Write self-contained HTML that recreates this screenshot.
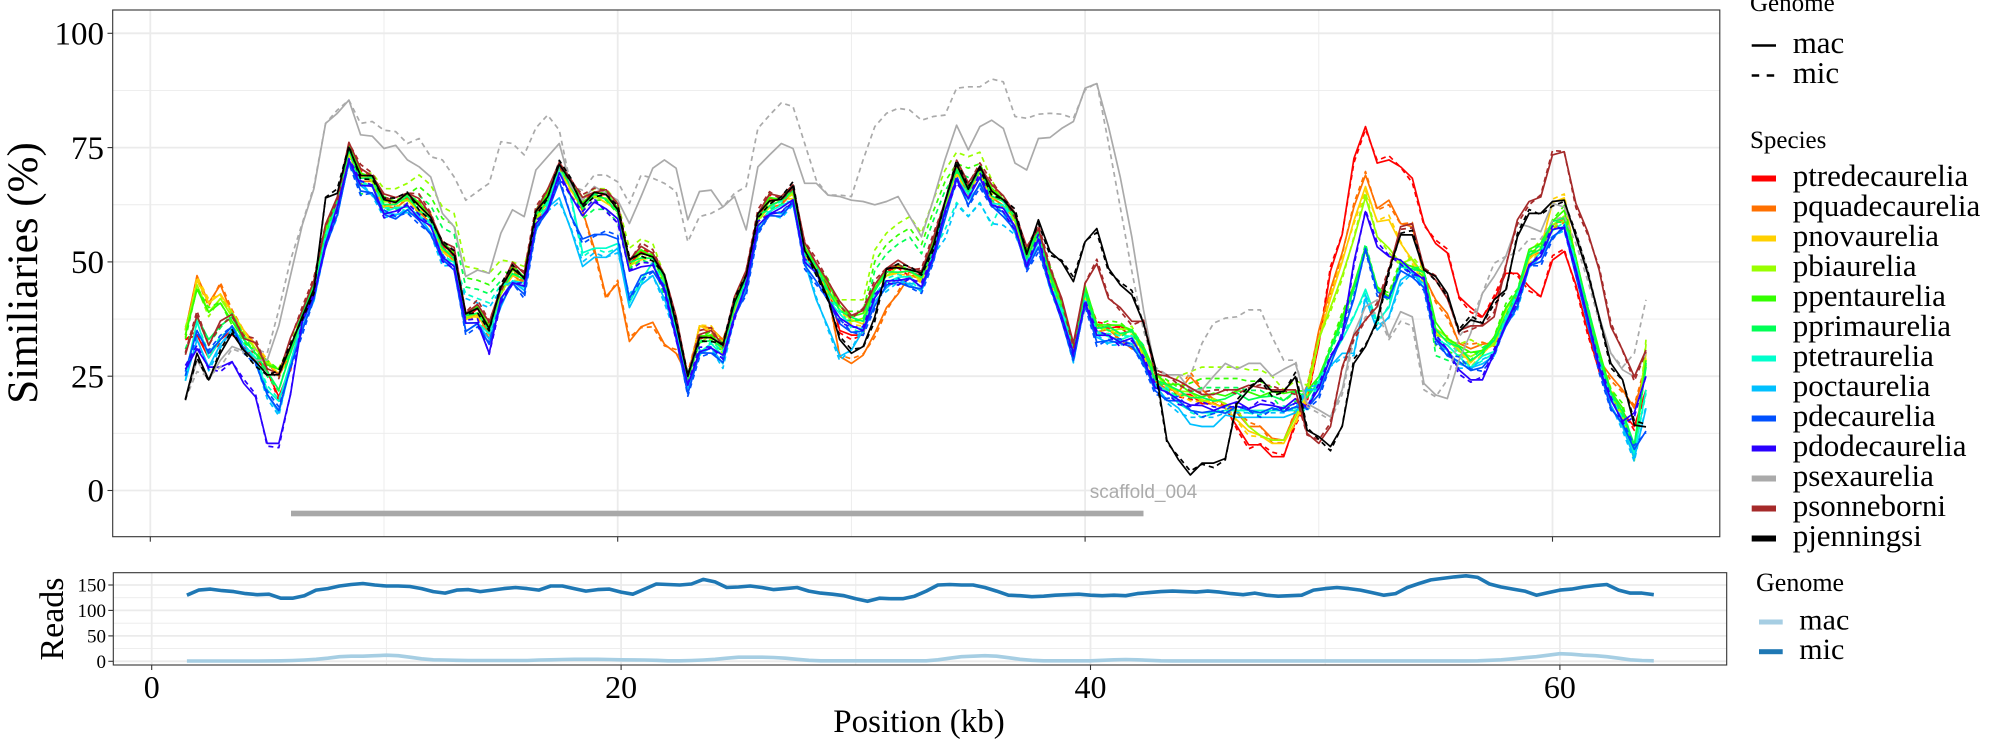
<!DOCTYPE html>
<html><head><meta charset="utf-8">
<style>
html,body{margin:0;padding:0;background:#fff;}
svg{display:block;}
text{font-family:"Liberation Serif","DejaVu Serif",serif;fill:#000;}
</style></head>
<body>
<svg id="s" width="2000" height="750" viewBox="0 0 2000 750" xmlns="http://www.w3.org/2000/svg">
<defs>
<clipPath id="cu"><rect x="112.7" y="10" width="1607.1" height="526.7"/></clipPath>
<clipPath id="cl"><rect x="113.3" y="572.7" width="1613.4" height="92.3"/></clipPath>
</defs>
<rect width="2000" height="750" fill="#fff"/>

<!-- upper grid -->
<g stroke="#ebebeb" fill="none">
<g stroke-width="0.9">
<line x1="112.7" x2="1719.8" y1="433.35" y2="433.35"/>
<line x1="112.7" x2="1719.8" y1="319.05" y2="319.05"/>
<line x1="112.7" x2="1719.8" y1="204.75" y2="204.75"/>
<line x1="112.7" x2="1719.8" y1="90.45" y2="90.45"/>
<line x1="384" x2="384" y1="10" y2="536.7"/>
<line x1="851.4" x2="851.4" y1="10" y2="536.7"/>
<line x1="1318.8" x2="1318.8" y1="10" y2="536.7"/>
</g>
<g stroke-width="1.8">
<line x1="112.7" x2="1719.8" y1="490.5" y2="490.5"/>
<line x1="112.7" x2="1719.8" y1="376.2" y2="376.2"/>
<line x1="112.7" x2="1719.8" y1="261.9" y2="261.9"/>
<line x1="112.7" x2="1719.8" y1="147.6" y2="147.6"/>
<line x1="112.7" x2="1719.8" y1="33.3" y2="33.3"/>
<line x1="150.3" x2="150.3" y1="10" y2="536.7"/>
<line x1="617.7" x2="617.7" y1="10" y2="536.7"/>
<line x1="1085.1" x2="1085.1" y1="10" y2="536.7"/>
<line x1="1552.5" x2="1552.5" y1="10" y2="536.7"/>
</g>
</g>

<!-- lower grid -->
<g stroke="#ebebeb" fill="none">
<g stroke-width="0.9">
<line x1="113.3" x2="1726.7" y1="648.6" y2="648.6"/>
<line x1="113.3" x2="1726.7" y1="623.2" y2="623.2"/>
<line x1="113.3" x2="1726.7" y1="597.7" y2="597.7"/>
<line x1="386.4" x2="386.4" y1="572.7" y2="665"/>
<line x1="855.8" x2="855.8" y1="572.7" y2="665"/>
<line x1="1325.2" x2="1325.2" y1="572.7" y2="665"/>
</g>
<g stroke-width="1.8">
<line x1="113.3" x2="1726.7" y1="661.3" y2="661.3"/>
<line x1="113.3" x2="1726.7" y1="635.9" y2="635.9"/>
<line x1="113.3" x2="1726.7" y1="610.4" y2="610.4"/>
<line x1="113.3" x2="1726.7" y1="585" y2="585"/>
<line x1="151.7" x2="151.7" y1="572.7" y2="665"/>
<line x1="621.1" x2="621.1" y1="572.7" y2="665"/>
<line x1="1090.5" x2="1090.5" y1="572.7" y2="665"/>
<line x1="1559.9" x2="1559.9" y1="572.7" y2="665"/>
</g>
</g>

<!-- scaffold bar -->
<rect x="291" y="510.7" width="852.5" height="5.6" fill="#a8a8a8"/>

<g id="up" clip-path="url(#cu)"></g>
<g id="lo" clip-path="url(#cl)"></g>

<text x="1143.5" y="498" font-size="19" text-anchor="middle" style="font-family:'Liberation Sans',Arial,sans-serif;fill:#ababab">scaffold_004</text>

<!-- panel borders -->
<rect x="112.7" y="10" width="1607.1" height="526.7" fill="none" stroke="#333" stroke-width="1.1"/>
<rect x="113.3" y="572.7" width="1613.4" height="92.3" fill="none" stroke="#333" stroke-width="1.1"/>

<!-- ticks -->
<g stroke="#333" stroke-width="1.1">
<line x1="107.5" x2="112.7" y1="490.5" y2="490.5"/>
<line x1="107.5" x2="112.7" y1="376.2" y2="376.2"/>
<line x1="107.5" x2="112.7" y1="261.9" y2="261.9"/>
<line x1="107.5" x2="112.7" y1="147.6" y2="147.6"/>
<line x1="107.5" x2="112.7" y1="33.3" y2="33.3"/>
<line x1="150.3" x2="150.3" y1="536.7" y2="541.7"/>
<line x1="617.7" x2="617.7" y1="536.7" y2="541.7"/>
<line x1="1085.1" x2="1085.1" y1="536.7" y2="541.7"/>
<line x1="1552.5" x2="1552.5" y1="536.7" y2="541.7"/>
<line x1="108.3" x2="113.3" y1="661.3" y2="661.3"/>
<line x1="108.3" x2="113.3" y1="635.9" y2="635.9"/>
<line x1="108.3" x2="113.3" y1="610.4" y2="610.4"/>
<line x1="108.3" x2="113.3" y1="585" y2="585"/>
<line x1="151.7" x2="151.7" y1="665" y2="670"/>
<line x1="621.1" x2="621.1" y1="665" y2="670"/>
<line x1="1090.5" x2="1090.5" y1="665" y2="670"/>
<line x1="1559.9" x2="1559.9" y1="665" y2="670"/>
</g>

<!-- upper y labels -->
<g font-size="33" text-anchor="end">
<text x="104" y="44.5">100</text>
<text x="104" y="158.8">75</text>
<text x="104" y="273.1">50</text>
<text x="104" y="387.4">25</text>
<text x="104" y="501.7">0</text>
</g>
<!-- lower y labels -->
<g font-size="19" text-anchor="end">
<text x="106" y="591.5">150</text>
<text x="106" y="617">100</text>
<text x="106" y="642.4">50</text>
<text x="106" y="667.8">0</text>
</g>
<!-- x labels -->
<g font-size="32" text-anchor="middle">
<text x="151.7" y="698">0</text>
<text x="621.1" y="698">20</text>
<text x="1090.5" y="698">40</text>
<text x="1559.9" y="698">60</text>
</g>
<text x="919" y="732" font-size="33" text-anchor="middle">Position (kb)</text>
<text transform="translate(37,273) rotate(-90)" font-size="43" text-anchor="middle">Similiaries (%)</text>
<text transform="translate(63,619) rotate(-90)" font-size="34" text-anchor="middle">Reads</text>

<!-- legend upper -->
<text x="1750" y="11" font-size="25">Genome</text>
<line x1="1751.7" x2="1776" y1="45.5" y2="45.5" stroke="#000" stroke-width="2.6"/>
<line x1="1751.7" x2="1776" y1="75.5" y2="75.5" stroke="#000" stroke-width="2.6" stroke-dasharray="7.5 7.5"/>
<g font-size="31">
<text x="1792.7" y="53">mac</text>
<text x="1792.7" y="83">mic</text>
</g>
<text x="1750" y="148" font-size="25">Species</text>
<g>
<rect x="1751.7" y="175.5" width="24.3" height="6" fill="#ff0000"/>
<rect x="1751.7" y="205.5" width="24.3" height="6" fill="#ff7000"/>
<rect x="1751.7" y="235.5" width="24.3" height="6" fill="#ffd000"/>
<rect x="1751.7" y="265.5" width="24.3" height="6" fill="#99ff00"/>
<rect x="1751.7" y="295.5" width="24.3" height="6" fill="#33ff00"/>
<rect x="1751.7" y="325.5" width="24.3" height="6" fill="#00ff55"/>
<rect x="1751.7" y="355.5" width="24.3" height="6" fill="#00ffcc"/>
<rect x="1751.7" y="385.5" width="24.3" height="6" fill="#00c0ff"/>
<rect x="1751.7" y="415.5" width="24.3" height="6" fill="#0050ff"/>
<rect x="1751.7" y="445.5" width="24.3" height="6" fill="#2a00ff"/>
<rect x="1751.7" y="475.5" width="24.3" height="6" fill="#aaaaaa"/>
<rect x="1751.7" y="505.5" width="24.3" height="6" fill="#a52a2a"/>
<rect x="1751.7" y="535.5" width="24.3" height="6" fill="#000000"/>
</g>
<g font-size="31">
<text x="1792.7" y="186">ptredecaurelia</text>
<text x="1792.7" y="216">pquadecaurelia</text>
<text x="1792.7" y="246">pnovaurelia</text>
<text x="1792.7" y="276">pbiaurelia</text>
<text x="1792.7" y="306">ppentaurelia</text>
<text x="1792.7" y="336">pprimaurelia</text>
<text x="1792.7" y="366">ptetraurelia</text>
<text x="1792.7" y="396">poctaurelia</text>
<text x="1792.7" y="426">pdecaurelia</text>
<text x="1792.7" y="456">pdodecaurelia</text>
<text x="1792.7" y="486">psexaurelia</text>
<text x="1792.7" y="516">psonneborni</text>
<text x="1792.7" y="546">pjenningsi</text>
</g>

<!-- legend lower -->
<text x="1756" y="591" font-size="26">Genome</text>
<rect x="1759" y="619.5" width="23.7" height="5" fill="#a6cee3"/>
<rect x="1759" y="649.2" width="23.7" height="5" fill="#1f78b4"/>
<g font-size="30">
<text x="1799.3" y="629.5">mac</text>
<text x="1799.3" y="659.2">mic</text>
</g>
</svg>

<script>
(function(){
var NS="http://www.w3.org/2000/svg";
var up=document.getElementById('up'), lo=document.getElementById('lo');
function X(k){return 150.3+23.37*k;}
function Y(v){return 490.5-4.572*v;}
function X2(k){return 151.7+23.47*k;}
function Y2(v){return 661.3-0.5087*v;}

var core=[28,36,30.5,35,36.5,32,30,25,24,31,38,44,56,63,74,68.5,67.5,62.5,62.5,63.5,61.5,59,52.5,51,37.5,38.5,35,43,47.5,46,59.5,63.5,70.5,66,62,64,63.5,61,49,51,50.5,45.5,35.8,24,32,33,30.5,40,46.5,59,62.5,63,65,52,48.5,43.5,39.5,37,37,43.5,47,48,47.5,46,53,62,70,65.5,69.5,64.5,63,59,51,56,46.5,40,31,43,35.5,35,34.5,34.5,30,24.5,22.5,21.5,20.5,19.5,19.5,20,20.5,20,20,20,20,21,20,24,30,36,45,55,46,45,50,49.5,47,35,32.5,30.5,28.5,30,32,38.5,43,51,53,58,59.5,50,39,29,21,16.5,11,22];

var greyS=[19.8,28.5,24.2,28.5,31.5,30.5,28.5,28.5,36,47,58,66,80.3,82.5,85.4,77.8,77.5,74.8,75.5,72.3,70.8,68.6,60.6,57.7,46.8,48.2,47.5,56.3,61.4,59.9,70.1,73,75.9,66.5,63.5,66.5,65,63.5,58.4,64.3,70.5,72.3,70.5,59.2,65.4,65.7,62,64.3,57,70.8,73.4,75.9,74.8,67.2,67.2,64.6,64.3,63.5,63.2,62.5,63.2,64.3,59.9,55.5,63.5,72.3,79.9,74.5,79.6,81,79.2,71.6,70.1,77,77.2,79.2,80.7,88,89,79.6,68.6,55.5,39.5,26.4,25.3,25.3,22,22,25,27.8,26.5,27.8,27.8,25,26.5,27.8,19,17.6,16.1,22,34.4,40.2,41.7,33.6,39.1,38,23.4,20.9,20.1,28.5,34.4,43.1,46.8,51.2,58.4,57.7,56.6,62.8,62,56.3,48.2,38,30,26.4,24.9,30];

var greyD=[20,26,25,27,31,30,31,30,39.5,50.4,58.4,66.5,80.3,83.2,85.4,80.3,80.7,78.8,78.5,75.9,77,73,72.3,68.6,63.5,65.4,67.2,76.3,75.9,73.4,79.3,82.1,78.8,66.5,65.7,69,69,67.5,62.8,69,68.3,67.2,65.4,54.4,59.9,60.6,62,65,66.5,79.2,82.1,84.8,84,75.9,67.9,64.6,64.6,64.3,72.3,79.6,82.5,83.6,83.2,81,81.8,82.1,88,88.3,88.3,90,89.4,81.8,81.4,82.3,82.5,82.3,81.4,87.6,89.2,76,62,48,35,27,25.3,25.3,25,32.2,36.6,37.7,38,39.5,39.5,33.6,28.5,28.5,18.3,16.9,15.4,21,33,38,39,33,37,36,22,20.5,24.2,33.6,37,43.1,49.7,51.2,52,55,55,59,60,54,46,37,30,27,30,41.7];

function idx(kb){return Math.round((kb-1.5)*2);}
function apply(a,ovs){
  (ovs||[]).forEach(function(o){var s=idx(o[0]);o[1].forEach(function(v,j){if(s+j<a.length&&s+j>=0)a[s+j]=v;});});
  return a;
}
function shift(ovs,d){return ovs.map(function(o){return [o[0],o[1].map(function(v){return v+d;})];});}
function pl(parent,pts,color,w,dash){
  var p=document.createElementNS(NS,'polyline');
  p.setAttribute('points',pts);
  p.setAttribute('fill','none');
  p.setAttribute('stroke',color);
  p.setAttribute('stroke-width',w);
  p.setAttribute('stroke-linejoin','round');
  if(dash)p.setAttribute('stroke-dasharray',dash);
  parent.appendChild(p);
}
function upPts(vals){return vals.map(function(v,i){return X(1.5+0.5*i).toFixed(1)+','+Y(v).toFixed(1);}).join(' ');}

var limeMic=[[9,[69.4,69.4,66,66,67.2,69,66.8,62,60.6,49,48.5,47.5,50.4,50,49]],
 [18.5,[64,66,66,63,53,55,54,47]],
 [29.5,[41.7,41.7,41.7,52.6,56.3,58.4,59.9,56.3,63.5,70,74,73,74,68]],
 [44,[25,26,27,27,27,27,26.4,26.4,25,22,24]],
 [55,[34,33,32,33]]];

var sp=[
 {c:'#ff0000',off:0.8,ov:[[1.5,[33,34,29,33,35,31,29,26,20.5,27]],[29.5,[35,34,34]],
   [43,[24,23,21,21,19,19,18,14,10,10,7.4,7.4,15,20,32,48,56,72.6,79.6,71.6,72.3,70.8,68.3,58.4,54,52,42.4,40,38,41.7,47.5,47.5,44.6,42.4,50.4,52.3,45,35,26,20,17,14,22]]]},
 {c:'#ff7000',off:-0.3,ov:[[1.5,[35,47,41,45,38.5,35,32,28,25,30]],[19,[53,42.4,45.3,32.6,35.8,36.8,32,30,25,36,35.5,33]],
   [29.5,[29.3,27.8,29.6,34.4,40,43]],[41.5,[33,31]],
   [44.5,[24.9,22,20,19,17,14,14,11.4,11,17,22,35,44,52,62,69,61.7,63.5,58.4,57.7,46.8,41.7,38.7,32.2,31,32]],
   [62.5,[25,22,18,27]]]},
 {c:'#ffd000',off:0,ov:[[1.5,[34,46,41,43,39,35,31,28,25.5,31]],[23.5,[36,35,32]],
   [46,[18,15.4,13,12,10.3,10.3,15,21,33,42,50,59,66.5,58.8,59.2,54.1,50.4,46]],[60,[63,64]],[63.5,[9,30]]]},
 {c:'#99ff00',off:0.5,ov:[[1.5,[35,45,39,42,38,34,31,28,26.5,31]],
   [46,[19,17.6,14,12,11,11,16,22,33,40,47,55,64.2,55.5,53,49.7]],[63.5,[6.5,32]]],mov:limeMic},
 {c:'#33ff00',off:1.2,ov:[[1.5,[34,44,39,41,37,33,30,27.5,26.5,31]],[51,[38,45,53.3,44.6,42.4,49.7,49]],[63.5,[8,28.5]]],mov:shift(limeMic,-2.5)},
 {c:'#00ff55',off:0.3,ov:[[1.5,[30,38,33,36,38,33,30,26,22,30]],[51,[37,44,53,44,42,49,48.5]],[63.5,[10,27]]],mov:shift(limeMic,-4.5)},
 {c:'#00ffcc',off:-1.2,ov:[[1.5,[25,37,29,33,36,32,29,22,19.5,28]],[18.5,[52,53,53,54,41,46]],
   [44,[19,17.5,17,17,17.5,17.5,17.5,17.5,17.5,17.5,17.5,18,24]],[51,[33,38,44,37,40,49,48]],[63.5,[8,22]]],
   mov:[[13.5,[43,42,41,45]],[19,[53,52,53,42]],[34,[57,63,60,63,58]]]},
 {c:'#00c0ff',off:-2.2,ov:[[1.5,[24,33,27,32,35,31,28,21,17,27]],[17.5,[64,57,49,51,51,53,40,45,47,42]],
   [28,[50,41.7,35.8,29.3,30.7,35]],[44,[18,14.5,14,14,16.5,16,16,16,16,16,17,22]],[51,[30,30,42,35.1,38,46]],[63.5,[7,18]]],
   mov:[[13.5,[42,41,40,44]],[19,[52,51,52,43]],[34,[55,62.5,59.9,62.8,58.4,58]],[44,[17,16,16,16,17,17,17,17,17,17,18]]]},
 {c:'#0050ff',off:-2.5,ov:[[1.5,[26,35,30,33,36,31,28,21,17.5,27]],[18,[60,55,56,56,55,42,47,48,44]],[63.5,[9,13]]]},
 {c:'#2a00ff',off:-1.5,ov:[[1.5,[26.5,31,27,27,28.2,23.4,20.5,10.3,10.3,21]],[14.5,[30]],[51.5,[50,61,53.3,51.2,50.4,48]],[56,[26.4,24.2,24.2,30]],[63.5,[17,25]]]},
 {c:'#aaaaaa',grey:true},
 {c:'#a52a2a',off:1.8,ov:[[40.5,[49.6,42,40,37,37,25.5,25,24,22.5,21,21,22,22,23,22.5,22,22,22,12.5,10.3,14,27,34,37.3,40.2,48,57.7,58.4,48.6,46,42,35,36,36,38,49,59.2,63.2,64.2,73.4,74.1,62.8,56.6,48.2,35.8,30.7,24.9,30.7]]]},
 {c:'#000000',off:1.0,ov:[[1.5,[20,30,24.2,30,34.4,30.7,28.2,25.3,25.3,31.5,38,44,64,65,75]],[28.5,[48,42,33,30,31.5,38]],
   [38,[59.2,52.3,50,45.7,54.4,57.3,48.6,45,42.8,36.6,27.1,11,6.7,3.4,6,6,7,19,22,24.5,21.6,21.6,24.9,13.2,11.8,9.6,14,27.8,31.5,37.3,48.2,55.9,55.9,48.2,46.8,43.1,34.7,37.3,36.6,41.7,43.9,55.5,60.6,60.6,63.2,63.5,55.5,47.5,38,27.8,24.2,14.3,13.9]]]}
];

var W=1.7, DASH='5 4';
sp.forEach(function(s,si){
  if(s.grey){
    pl(up,upPts(greyS),s.c,W,null);
    pl(up,upPts(greyD),s.c,W,DASH);
    return;
  }
  var mac=core.map(function(v,i){return v+s.off+0.6*Math.sin(i*2.3+si*1.7);});
  apply(mac,s.ov);
  var mic=mac.map(function(v,i){return v+1.0*Math.sin(i*1.3+si*2.9);});
  apply(mic,s.mov);
  pl(up,upPts(mac),s.c,W,null);
  pl(up,upPts(mic),s.c,W,DASH);
});

/* reads */
var micR=[130,140,142,139,137,133,131,132,124,124,129,140,143,148,151,153,150,148,148,147,143,137,134,140,141,137,140,143,145,143,140,148,148,143,138,141,142,136,132,142,152,151,150,152,161,156,145,146,148,145,141,143,145,138,134,132,129,123,118,124,123,123,128,138,150,151,150,150,145,138,130,129,127,128,130,131,132,130,129,130,129,133,135,137,138,137,136,138,136,133,131,134,130,128,129,130,140,143,145,143,140,135,130,133,145,153,160,163,166,168,165,152,146,142,138,130,135,140,142,146,149,151,140,134,134,131];
var macK=[[1.5,0.5],[4.5,0.5],[5.5,1],[6,1.5],[6.5,2.5],[7,4],[7.5,6],[8,9],[8.5,10],[9,10],[9.5,11],[10,12],[10.5,11],[11,8],[11.5,5],[12,3],[12.5,2.5],[13,2],[13.5,1.5],[16,1.5],[16.5,2.5],[17,3],[17.5,3.5],[18,4],[19,4],[19.5,3.5],[20,3],[21,2.5],[21.5,2],[22,1],[22.5,1],[23,1.5],[23.5,2.5],[24,4],[24.5,6],[25,8],[26,8],[26.5,7.5],[27,6],[27.5,4],[28,2],[28.5,1],[33,1],[33.5,3],[34,6],[34.5,9],[35,10],[35.5,11],[36,10],[36.5,7],[37,4],[37.5,2],[38,1],[40,1],[40.5,2],[41,3],[41.5,3.5],[42,3],[42.5,2],[43,1],[43.5,0.8],[56,0.8],[56.5,1],[57,2],[57.5,3],[58,5],[58.5,7],[59,9],[59.5,12],[60,15],[60.5,14],[61,12],[61.5,11],[62,9],[62.5,6],[63,3],[63.5,1.5],[64,1]];
pl(lo,macK.map(function(p){return X2(p[0]).toFixed(1)+','+Y2(p[1]).toFixed(1);}).join(' '),'#a6cee3',3.6,null);
pl(lo,micR.map(function(v,i){return X2(1.5+0.5*i).toFixed(1)+','+Y2(v).toFixed(1);}).join(' '),'#1f78b4',3.6,null);
})();
</script>
</body></html>
